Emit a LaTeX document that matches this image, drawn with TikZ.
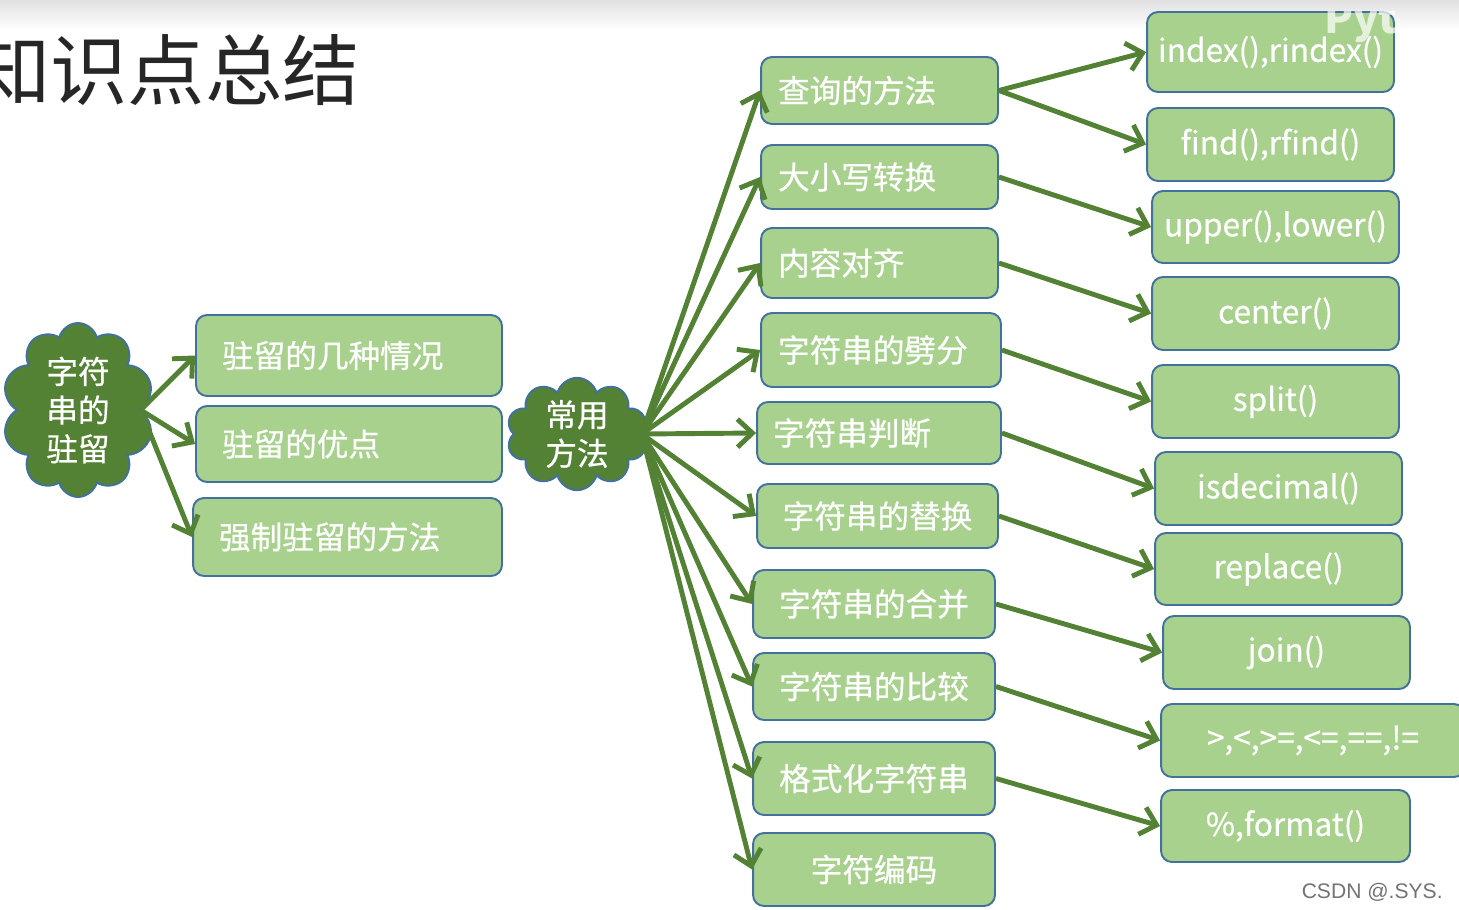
\documentclass[tikz,border=0pt]{standalone}
\usepackage{fontspec}
\setmainfont{Noto Sans CJK SC}
\newfontfamily\boxfont{Noto Sans CJK SC}[FakeBold=0.6]
\newfontfamily\wmfont{Liberation Sans}
\usetikzlibrary{arrows.meta,shapes.symbols}
\definecolor{boxfill}{HTML}{A9D18E}
\definecolor{boxline}{HTML}{41719C}
\definecolor{darkgreen}{HTML}{548235}
\tikzset{
  box/.style={draw=boxline, fill=boxfill, line width=1.1pt, rounded corners=0.22cm, text=white,
    font=\boxfont\fontsize{18}{22}\selectfont, inner sep=0pt},
  lbox/.style={box, align=left, inner xsep=0.34cm},
  cloudbox/.style={cloud, cloud puffs=10, cloud ignores aspect, draw=boxline, fill=darkgreen, line width=1.1pt,
    text=white, align=center, font=\boxfont\fontsize{18}{22}\selectfont, inner sep=0pt},
  arr/.style={draw=darkgreen, line width=2.8pt, -{Straight Barb[length=0.3cm,width=0.56cm]}},
}
\begin{document}
\begin{tikzpicture}[x=0.02cm,y=-0.02cm]
  \useasboundingbox (0,0) rectangle (1459,909);
  \shade[top color=black!12, bottom color=white] (0,0) rectangle (1459,30);
  \node[anchor=west, inner sep=0pt, font=\fontsize{44}{50}\selectfont, text=black!85] (title) at (-27,70) {知识点总结};

  % clouds
  \node[cloudbox, minimum width=3.04cm, minimum height=3.48cm] (zl) at (78,410) {字符\\串的\\驻留};
  \node[cloudbox, minimum width=2.82cm, minimum height=2.16cm] (cy) at (577,434) {常用\\方法};

  % left column
  \node[lbox, inner xsep=0.52cm, text width=5.08cm, minimum height=1.62cm] (l1) at (349,355.5) {驻留的几种情况};
  \node[lbox, inner xsep=0.52cm, text width=5.08cm, minimum height=1.52cm] (l2) at (349,444) {驻留的优点};
  \node[lbox, inner xsep=0.52cm, text width=5.14cm, minimum height=1.56cm] (l3) at (347.5,537) {强制驻留的方法};

  % middle column
  \node[lbox, text width=4.06cm, minimum height=1.34cm] (m1) at (879.5,90.5) {查询的方法};
  \node[lbox, text width=4.06cm, minimum height=1.28cm] (m2) at (879.5,177) {大小写转换};
  \node[lbox, text width=4.06cm, minimum height=1.40cm] (m3) at (879.5,263) {内容对齐};
  \node[lbox, text width=4.12cm, minimum height=1.48cm] (m4) at (881,350) {字符串的劈分};
  \node[lbox, inner xsep=0.32cm, text width=4.24cm, minimum height=1.24cm] (m5) at (879,433) {字符串判断};
  \node[box, minimum width=4.82cm, minimum height=1.28cm] (m6) at (877.5,516) {字符串的替换};
  \node[box, minimum width=4.84cm, minimum height=1.36cm] (m7) at (874,604) {字符串的合并};
  \node[box, minimum width=4.84cm, minimum height=1.34cm] (m8) at (874,686.5) {字符串的比较};
  \node[box, minimum width=4.84cm, minimum height=1.46cm] (m9) at (874,778.5) {格式化字符串};
  \node[box, minimum width=4.84cm, minimum height=1.46cm] (m10) at (874,869.5) {字符编码};

  % right column
  \node[box, minimum width=4.94cm, minimum height=1.60cm] (r1) at (1270.5,52) {index(),rindex()};
  \node[box, minimum width=4.94cm, minimum height=1.46cm] (r2) at (1270.5,144.5) {find(),rfind()};
  \node[box, minimum width=4.94cm, minimum height=1.44cm] (r3) at (1275.5,227) {upper(),lower()};
  \node[box, minimum width=4.94cm, minimum height=1.46cm] (r4) at (1275.5,313.5) {center()};
  \node[box, minimum width=4.94cm, minimum height=1.46cm] (r5) at (1275.5,401.5) {split()};
  \node[box, minimum width=4.94cm, minimum height=1.46cm] (r6) at (1278.5,488.5) {isdecimal()};
  \node[box, minimum width=4.94cm, minimum height=1.44cm] (r7) at (1278.5,569) {replace()};
  \node[box, minimum width=4.94cm, minimum height=1.46cm] (r8) at (1286.5,652.5) {join()};
  \node[box, minimum width=6.08cm, minimum height=1.46cm] (r9) at (1313,740.5) {>,<,>=,<=,==,!=};
  \node[box, minimum width=4.98cm, minimum height=1.44cm] (r10) at (1285.5,826) {\%,format()};
  \begin{scope}
    \clip (r1.north west) rectangle (r1.south east);
    \node[anchor=north west, inner sep=0pt, font=\fontsize{24}{26}\selectfont\bfseries, text=white, opacity=0.7] (py) at (1324,-1) {Python};
  \end{scope}

  % connectors
  \foreach \t in {l1,l2,l3} \draw[arr] (zl.east) -- (\t.west);
  \foreach \t in {m1,m2,m3,m4,m5,m6,m7,m8,m9,m10} \draw[arr] (cy.east) -- (\t.west);
  \draw[arr] (m1.east) -- (r1.west); \draw[arr] (m1.east) -- (r2.west);
  \draw[arr] (m2.east) -- (r3.west); \draw[arr] (m3.east) -- (r4.west);
  \draw[arr] (m4.east) -- (r5.west); \draw[arr] (m5.east) -- (r6.west);
  \draw[arr] (m6.east) -- (r7.west); \draw[arr] (m7.east) -- (r8.west);
  \draw[arr] (m8.east) -- (r9.west); \draw[arr] (m9.east) -- (r10.west);

  \node[anchor=east, inner sep=0pt, font=\wmfont\fontsize{12}{14}\selectfont, text=black!55] (wm) at (1443,892) {CSDN @.SYS.};
\end{tikzpicture}
\end{document}
